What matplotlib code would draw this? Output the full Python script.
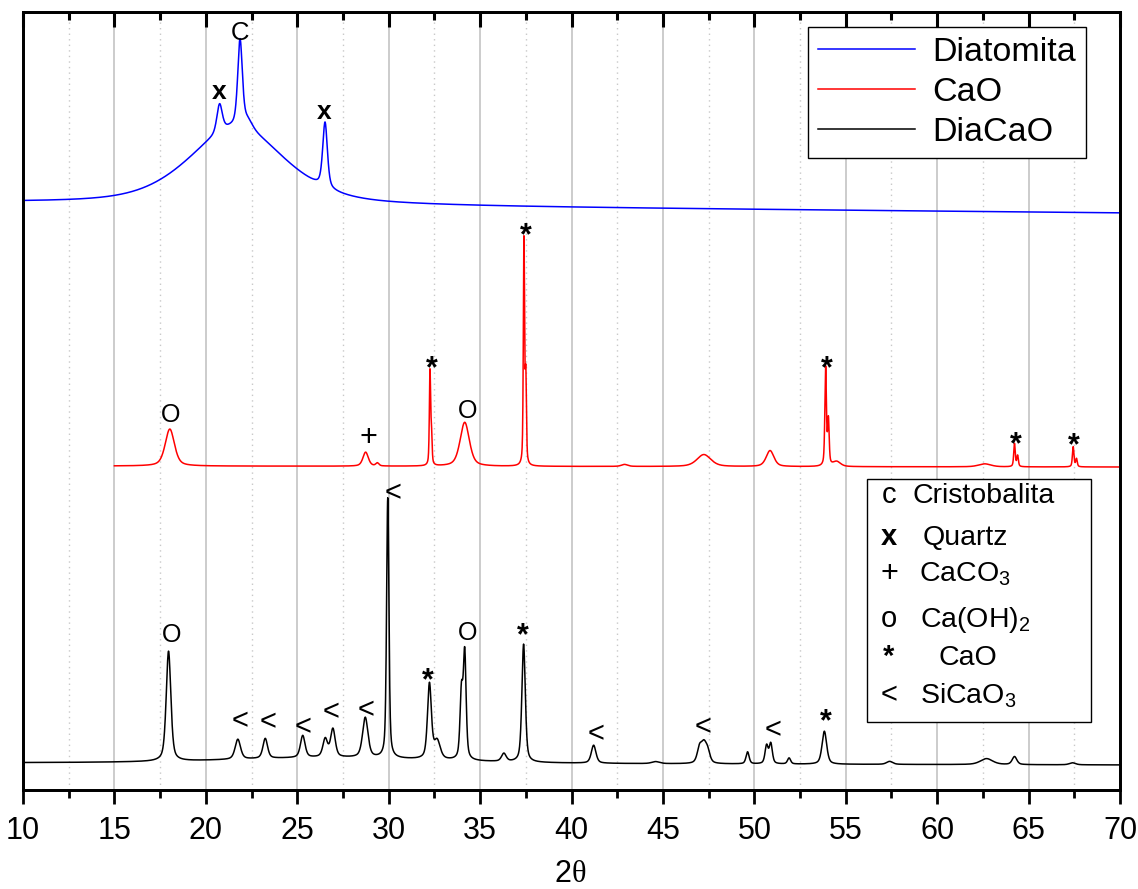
import numpy as np
import matplotlib
matplotlib.use('Agg')
import matplotlib.pyplot as plt
from matplotlib.ticker import MultipleLocator
from matplotlib.patches import Rectangle
from matplotlib.lines import Line2D

plt.rcParams['font.family'] = ['Liberation Sans', 'DejaVu Sans']
plt.rcParams['mathtext.fontset'] = 'custom'
plt.rcParams['mathtext.rm'] = 'Liberation Sans'
plt.rcParams['mathtext.it'] = 'Liberation Sans:italic'
plt.rcParams['mathtext.bf'] = 'Liberation Sans:bold'

# ---------------- data (intensity in a.u., stacked) ----------------
# Diatomita (blue): background at start/end and peak list (2theta, height, FWHM)
dia_range = (10.0, 70.0)
dia_background = (587, 577)
dia_pos = [21.7, 20.75, 21.87, 22.3, 26.52]
dia_height = [78, 28, 86, 8, 65]
dia_fwhm = [6.2, 0.35, 0.3, 0.6, 0.3]

# CaO (red)
cao_range = (15.0, 70.0)
cao_background = (324, 323)
cao_pos = [18.03, 28.74, 29.38, 32.26, 32.34, 34.16, 37.40, 37.50, 42.9, 47.24,
           50.86, 53.90, 54.05, 54.5, 62.6, 64.23, 64.40, 67.44, 67.62]
cao_height = [37, 14, 3, 93, 30, 44, 224, 85, 2, 12,
              16, 98, 45, 5, 3, 23, 11, 20, 8]
cao_fwhm = [0.6, 0.35, 0.2, 0.08, 0.08, 0.6, 0.08, 0.08, 0.4, 0.9,
            0.5, 0.1, 0.1, 0.5, 0.8, 0.1, 0.1, 0.1, 0.1]

# DiaCaO (black)
diacao_range = (10.0, 70.0)
diacao_background = (27, 25)
diacao_pos = [27.0, 17.96, 21.75, 23.25, 25.3, 26.53, 26.95, 28.72, 29.95, 32.23,
              32.65, 33.98, 34.16, 36.3, 37.38, 41.21, 44.6, 47.0, 47.24, 47.45,
              49.63, 50.67, 50.90, 51.9, 53.83, 57.4, 62.7, 64.23, 67.4]
diacao_height = [6, 110, 20, 20, 22, 18, 28, 40, 260, 75,
                 18, 65, 105, 8, 118, 18, 2, 14, 18, 10,
                 12, 18, 20, 6, 33, 3, 6, 8, 2]
diacao_fwhm = [14, 0.3, 0.35, 0.3, 0.3, 0.3, 0.3, 0.35, 0.15, 0.25,
               0.4, 0.18, 0.18, 0.3, 0.22, 0.3, 0.5, 0.3, 0.35, 0.3,
               0.2, 0.2, 0.2, 0.2, 0.3, 0.4, 0.8, 0.3, 0.4]

series_labels = ['Diatomita', 'CaO', 'DiaCaO']
series_colors = ['#0000ff', '#ff0000', '#000000']

# phase marks: (symbol, 2theta, intensity of glyph centre)
dia_marks = [('x', 20.72, 698), ('C', 21.87, 760), ('x', 26.47, 678)]
cao_marks = [('O', 18.1, 378), ('+', 28.87, 355), ('*', 32.37, 430), ('O', 34.3, 382),
             ('*', 37.5, 563), ('*', 53.95, 430), ('*', 64.3, 354), ('*', 67.5, 353)]
diacao_marks = [('O', 18.15, 157), ('<', 21.87, 71), ('<', 23.4, 70), ('<', 25.3, 65),
                ('<', 26.85, 80), ('<', 28.76, 82), ('<', 30.24, 299), ('*', 32.15, 118),
                ('O', 34.3, 159), ('*', 37.35, 163), ('<', 41.35, 58), ('<', 47.2, 65),
                ('<', 51.03, 62), ('*', 53.93, 77)]

phase_symbols = ['c', 'x', '+', 'o', '*', '<']
phase_names = ['Cristobalita', 'Quartz', 'CaCO$_3$', 'Ca(OH)$_2$', 'CaO', 'SiCaO$_3$']

xticks = [10, 15, 20, 25, 30, 35, 40, 45, 50, 55, 60, 65, 70]


# ---------------- profiles ----------------
def pattern(rng, bg, pos, height, fwhm, step=0.01, eta=0.5):
    x = np.arange(rng[0], rng[1] + step / 2, step)
    y = bg[0] + (bg[1] - bg[0]) * (x - rng[0]) / (rng[1] - rng[0])
    for p, h, w in zip(pos, height, fwhm):
        d = (x - p) / w
        y = y + h * ((1 - eta) * np.exp(-4 * np.log(2) * d ** 2) + eta / (1 + 4 * d ** 2))
    return x, y


W, H = 1138, 889
fig = plt.figure(figsize=(W / 100, H / 100), dpi=100)
ax = fig.add_axes([23 / W, 99 / H, 1097 / W, 778 / H])

curves = [
    pattern(dia_range, dia_background, dia_pos, dia_height, dia_fwhm),
    pattern(cao_range, cao_background, cao_pos, cao_height, cao_fwhm),
    pattern(diacao_range, diacao_background, diacao_pos, diacao_height, diacao_fwhm),
]
for (x, y), c in zip(curves, series_colors):
    ax.plot(x, y, color=c, lw=1.1, zorder=3)

ax.set_xlim(10, 70)
ax.set_ylim(0, 778)
ax.set_yticks([])
ax.set_xticks(xticks)
ax.xaxis.set_minor_locator(MultipleLocator(2.5))
ax.set_axisbelow(True)
ax.grid(which='major', axis='x', color='#c4c4c4', lw=1.2, ls='-')
ax.grid(which='minor', axis='x', color='#c8c8c8', lw=1.0, ls=(0, (1, 3)))
for s in ax.spines.values():
    s.set_linewidth(2)
ax.tick_params(axis='x', which='major', direction='out', length=10, width=2,
               labelsize=22, pad=9, top=False)
ax.tick_params(axis='x', which='minor', direction='out', length=6, width=2, top=False)

# inward ticks on the top edge
ax2 = ax.twiny()
ax2.set_xlim(ax.get_xlim())
ax2.set_xticks(xticks)
ax2.xaxis.set_minor_locator(MultipleLocator(2.5))
ax2.tick_params(axis='x', which='major', direction='in', length=11, width=2.2,
                labeltop=False, labelbottom=False, bottom=False, top=True)
ax2.tick_params(axis='x', which='minor', direction='in', length=6, width=2.2,
                bottom=False, top=True)
for s in ax2.spines.values():
    s.set_linewidth(2)

# x label "2θ"
fig.text(571 / W, 1 - 882 / H, '2', ha='right', va='baseline', fontsize=22,
         family=['Liberation Sans'])
fig.text(572 / W, 1 - 882 / H, 'θ', ha='left', va='baseline', fontsize=22,
         family=['Liberation Serif', 'DejaVu Serif'])

# phase marks on curves
style = {
    'x': dict(fontsize=19, fontweight='bold', off=0.0),
    'C': dict(fontsize=18.5, fontweight='normal', off=0.10),
    'O': dict(fontsize=18, fontweight='normal', off=0.10),
    '+': dict(fontsize=22, fontweight='normal', off=0.09),
    '*': dict(fontsize=22, fontweight='bold', off=0.31),
    '<': dict(fontsize=21, fontweight='normal', off=0.09),
}
for marks in (dia_marks, cao_marks, diacao_marks):
    for sym, x, y in marks:
        st = style[sym]
        ax.annotate(sym, xy=(x, y), xytext=(0, -st['off'] * st['fontsize']),
                    textcoords='offset points', ha='center', va='center',
                    fontsize=st['fontsize'], fontweight=st['fontweight'], zorder=4)

# series legend
handles = [Line2D([], [], color=c, lw=1.1) for c in series_colors]
leg = ax.legend(handles, series_labels, loc='upper right',
                bbox_to_anchor=((1086 - 23) / 1097, (790 - 27) / 778),
                borderaxespad=0, fontsize=24.5, handlelength=2.85, handletextpad=0.5,
                labelspacing=0.26, borderpad=0.3, frameon=True, fancybox=False,
                edgecolor='black', framealpha=1)
leg.get_frame().set_linewidth(1.0)
leg.set_zorder(6)

# phase key box
bx0, bx1, by0, by1 = 867, 1091, 479, 722
ax.add_patch(Rectangle(((bx0 - 23) / 1097, (790 - by1) / 778), (bx1 - bx0) / 1097,
                       (by1 - by0) / 778, transform=ax.transAxes, facecolor='white',
                       edgecolor='black', lw=1.0, zorder=5))
row_base = [503, 545, 582, 627, 665, 703]
name_x = [913, 923, 919, 920, 938, 920]
for sym, name, yb, nx in zip(phase_symbols, phase_names, row_base, name_x):
    bold = sym in ('x', '*')
    fs_sym = 22 if sym == '+' else 21
    fig.text(889 / W, 1 - yb / H, sym, ha='center', va='baseline', fontsize=fs_sym,
             fontweight='bold' if bold else 'normal', zorder=6)
    fig.text(nx / W, 1 - yb / H, name, ha='left', va='baseline', fontsize=20.5, zorder=6)

fig.savefig('out.png', dpi=100)
